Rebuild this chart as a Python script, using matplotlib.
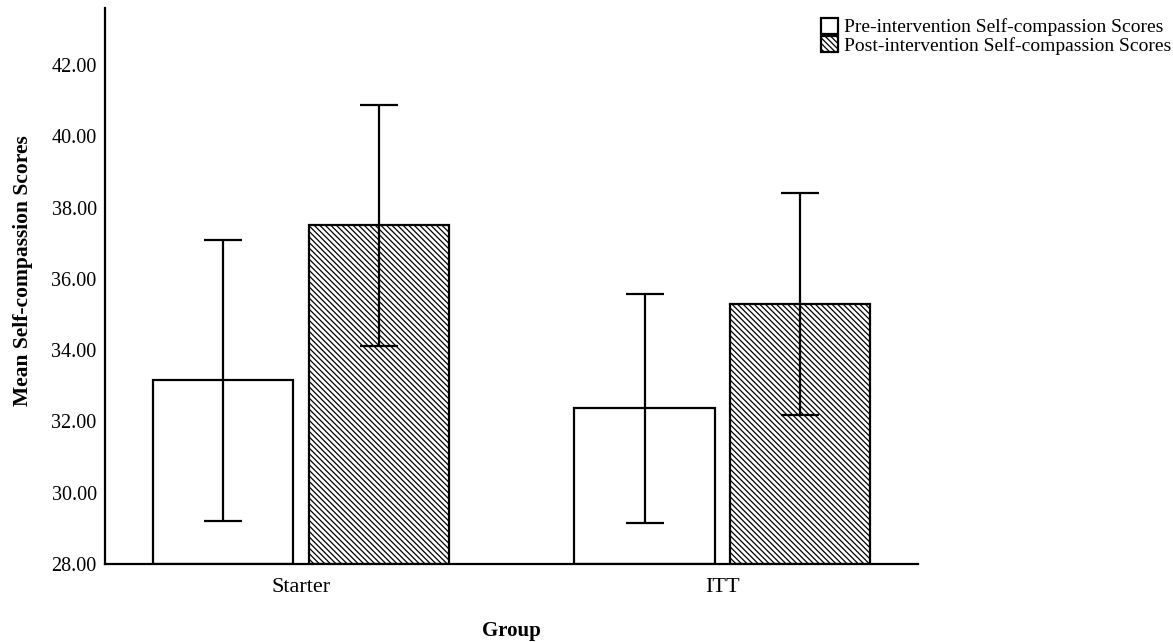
import numpy as np
import matplotlib
matplotlib.use("Agg")
import matplotlib.pyplot as plt

plt.rcParams['font.family'] = ['Liberation Serif', 'DejaVu Serif']
plt.rcParams['hatch.linewidth'] = 0.9

# Data
groups = ["Starter", "ITT"]
series_names = ["Pre-intervention Self-compassion Scores",
                "Post-intervention Self-compassion Scores"]
pre_mean = [33.17, 32.38]
pre_low = [29.21, 29.15]
pre_high = [37.10, 35.58]
post_mean = [37.52, 35.30]
post_low = [34.12, 32.19]
post_high = [40.89, 38.42]
yticks = [28, 30, 32, 34, 36, 38, 40, 42]

fig = plt.figure(figsize=(11.73, 6.42), dpi=100)
ax = fig.add_axes([0.0895, 0.1215, 0.693, 0.866])

x = np.arange(len(groups))
width = 0.333
offset = 0.1845

pre_err = [np.subtract(pre_mean, pre_low), np.subtract(pre_high, pre_mean)]
post_err = [np.subtract(post_mean, post_low), np.subtract(post_high, post_mean)]

bottom = 28
ax.bar(x - offset, np.subtract(pre_mean, bottom), width, bottom=bottom,
       color="white", edgecolor="black", linewidth=1.6, label=series_names[0],
       zorder=2)
ax.bar(x + offset, np.subtract(post_mean, bottom), width, bottom=bottom,
       color="white", edgecolor="black", linewidth=1.6, hatch="\\" * 6,
       label=series_names[1], zorder=2)

ax.errorbar(x - offset, pre_mean, yerr=pre_err, fmt="none", ecolor="black",
            elinewidth=1.6, capsize=13.5, capthick=1.6, zorder=3)
ax.errorbar(x + offset, post_mean, yerr=post_err, fmt="none", ecolor="black",
            elinewidth=1.6, capsize=13.5, capthick=1.6, zorder=3)

ax.set_xlim(-0.465, 1.464)
ax.set_ylim(28, 43.6)
ax.set_yticks(yticks)
ax.set_yticklabels([f"{v:.2f}" for v in yticks], fontsize=14.5)
ax.set_xticks(x)
ax.set_xticklabels(groups, fontsize=16)
ax.tick_params(axis="y", length=0, pad=6)
ax.tick_params(axis="x", length=0, pad=10)

for side in ["top", "right"]:
    ax.spines[side].set_visible(False)
for side in ["left", "bottom"]:
    ax.spines[side].set_linewidth(1.6)

ax.set_ylabel("Mean Self-compassion Scores", fontsize=15.5, fontweight="bold")
ax.yaxis.set_label_coords(-0.088, 0.527)
ax.set_xlabel("Group", fontsize=15, fontweight="bold")
ax.xaxis.set_label_coords(0.5, -0.102)

ax.legend(loc="upper left", bbox_to_anchor=(0.697, 0.978), bbox_transform=fig.transFigure,
          frameon=False, fontsize=14, handlelength=0.85, handleheight=0.85,
          handletextpad=0.3, labelspacing=0.0, borderaxespad=0.0, borderpad=0.2)

fig.savefig("out.png", dpi=100)
